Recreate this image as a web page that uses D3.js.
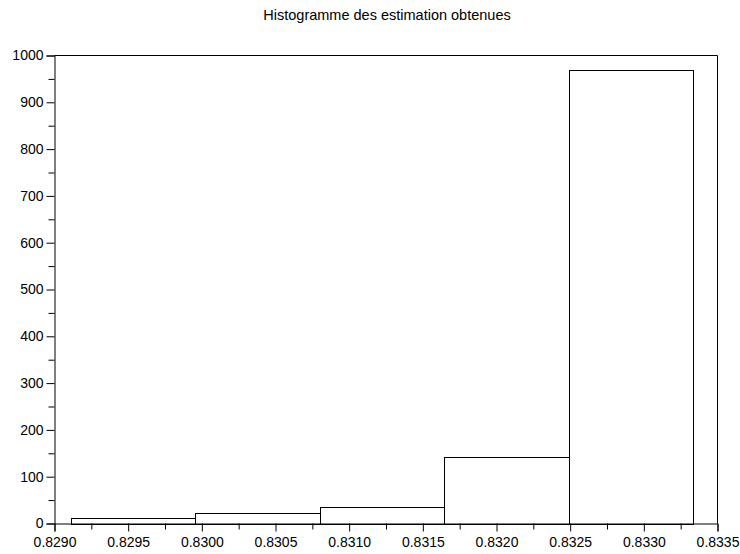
<!DOCTYPE html>
<html>
<head>
<meta charset="utf-8">
<script src="https://cdn.jsdelivr.net/npm/d3@7"></script>
<style>
  html, body { margin: 0; padding: 0; background: #fff; }
  svg { display: block; font-family: "Liberation Sans", Arial, sans-serif; }
</style>
</head>
<body>
<svg id="chart" width="740" height="554"></svg>
<script>
// Histogram bins (edges) and counts
const binEdges = [0.82911, 0.829955, 0.8308, 0.831645, 0.83249, 0.833335];
const counts = [11.5, 22, 35, 142, 970];
const xTicks = [0.8290, 0.8295, 0.8300, 0.8305, 0.8310, 0.8315, 0.8320, 0.8325, 0.8330, 0.8335];
const yTicks = [0, 100, 200, 300, 400, 500, 600, 700, 800, 900, 1000];
const title = "Histogramme des estimation obtenues";

(function draw() {
  const svg = d3.select("#chart");
  const plotLeft = 54.5, plotRight = 717.5, plotTop = 55.5, plotBottom = 523.5;

  const x = d3.scaleLinear().domain([0.8290, 0.8335]).range([plotLeft, plotRight]);
  const y = d3.scaleLinear().domain([0, 1000]).range([plotBottom, plotTop]);

  // Title
  svg.append("text")
    .attr("x", 387).attr("y", 19.5)
    .attr("text-anchor", "middle")
    .attr("font-size", 14.5)
    .attr("fill", "#000")
    .text(title);

  // Bars
  const bins = counts.map((c, i) => ({ x0: binEdges[i], x1: binEdges[i + 1], v: c }));
  svg.append("g").selectAll("rect").data(bins).join("rect")
    .attr("x", d => Math.round(x(d.x0)) + 0.5)
    .attr("width", d => Math.round(x(d.x1)) - Math.round(x(d.x0)))
    .attr("y", d => Math.round(y(d.v)) + 0.5)
    .attr("height", d => Math.round(y(0)) - Math.round(y(d.v)))
    .attr("fill", "none")
    .attr("stroke", "#000")
    .attr("stroke-width", 1);

  // Frame: top and right edges
  svg.append("path")
    .attr("d", `M${plotLeft},${plotTop}H${plotRight}V${plotBottom}`)
    .attr("fill", "none").attr("stroke", "#000").attr("stroke-width", 1);

  // Minor ticks (half-steps)
  const xMinor = xTicks.slice(0, -1).map((t, i) => (t + xTicks[i + 1]) / 2);
  const yMinor = yTicks.slice(0, -1).map((t, i) => (t + yTicks[i + 1]) / 2);

  // X axis
  svg.append("g").attr("transform", `translate(0,${plotBottom})`)
    .call(d3.axisBottom(x).tickValues(xTicks).tickFormat(d3.format(".4f")).tickSizeOuter(0).tickSize(8).tickPadding(6));
  svg.append("g").attr("transform", `translate(0,${plotBottom})`)
    .call(d3.axisBottom(x).tickValues(xMinor).tickFormat("").tickSizeOuter(0).tickSize(6))
    .select(".domain").remove();

  // Y axis
  svg.append("g").attr("transform", `translate(${plotLeft},0)`)
    .call(d3.axisLeft(y).tickValues(yTicks).tickFormat(d3.format("d")).tickSizeOuter(0).tickSize(8).tickPadding(3));
  svg.append("g").attr("transform", `translate(${plotLeft},0)`)
    .call(d3.axisLeft(y).tickValues(yMinor).tickFormat("").tickSizeOuter(0).tickSize(6))
    .select(".domain").remove();

  svg.selectAll(".tick text")
    .attr("font-size", 14)
    .attr("font-family", "'Liberation Sans', Arial, sans-serif")
    .attr("fill", "#000");
  svg.selectAll(".domain, .tick line").attr("stroke", "#000");
})();
</script>
</body>
</html>
